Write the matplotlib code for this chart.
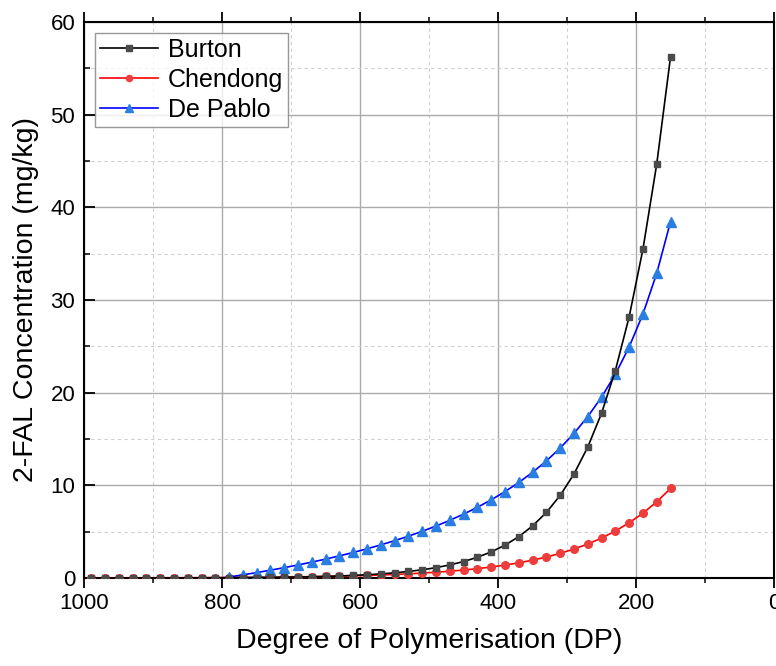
import matplotlib
matplotlib.use("Agg")
import matplotlib.pyplot as plt
from matplotlib.ticker import MultipleLocator

plt.rcParams['font.family'] = ['Liberation Sans', 'DejaVu Sans']

dp = [990, 970, 950, 930, 910, 890, 870, 850, 830, 810, 790, 770, 750, 730,
      710, 690, 670, 650, 630, 610, 590, 570, 550, 530, 510, 490, 470, 450,
      430, 410, 390, 370, 350, 330, 310, 290, 270, 250, 230, 210, 190, 170, 150]

burton = [0.00355, 0.00447, 0.00562, 0.00708, 0.00891, 0.01122, 0.01413, 0.01778,
          0.02239, 0.02818, 0.03548, 0.04467, 0.05623, 0.07079, 0.08913, 0.1122,
          0.1413, 0.1778, 0.2239, 0.2818, 0.3548, 0.4467, 0.5623, 0.7079, 0.8913,
          1.122, 1.413, 1.778, 2.239, 2.818, 3.548, 4.467, 5.623, 7.079, 8.913,
          11.22, 14.13, 17.78, 22.39, 28.18, 35.48, 44.67, 56.23]

chendong = [0.01109, 0.01303, 0.01531, 0.01799, 0.02113, 0.02483, 0.02917, 0.03428,
            0.04027, 0.04732, 0.05559, 0.06531, 0.07674, 0.09016, 0.1059, 0.1245,
            0.1462, 0.1718, 0.2018, 0.2371, 0.2786, 0.3273, 0.3846, 0.4519, 0.5309,
            0.6237, 0.7328, 0.8610, 1.0116, 1.1885, 1.3964, 1.6406, 1.9275, 2.2646,
            2.6607, 3.1261, 3.6728, 4.3152, 5.0699, 5.9566, 6.9984, 8.2224, 9.6605]

de_pablo = [-1.708, -1.560, -1.406, -1.246, -1.078, -0.902, -0.719, -0.527, -0.326,
            -0.115, 0.107, 0.341, 0.587, 0.846, 1.120, 1.410, 1.717, 2.043, 2.390,
            2.759, 3.154, 3.576, 4.029, 4.516, 5.042, 5.610, 6.226, 6.898, 7.632,
            8.437, 9.325, 10.309, 11.406, 12.635, 14.023, 15.603, 17.416, 19.520,
            21.990, 24.930, 28.488, 32.885, 38.453]

series_names = ["Burton", "Chendong", "De Pablo"]
x_ticks = [1000, 800, 600, 400, 200, 0]
y_ticks = [0, 10, 20, 30, 40, 50, 60]

fig = plt.figure(figsize=(7.76, 6.66), dpi=100)
ax = fig.add_axes([0.1086, 0.1321, 0.8888, 0.8349])

ax.plot(dp, burton, color='black', lw=1.2, marker='s', ms=5,
        mfc='#4a4a4a', mec='#4a4a4a', label=series_names[0], zorder=4)
ax.plot(dp, chendong, color='#ff0000', lw=1.2, marker='o', ms=5.5,
        mfc='#ee3d3d', mec='#ee3d3d', label=series_names[1], zorder=3)
ax.plot(dp, de_pablo, color='#0000ff', lw=1.2, marker='^', ms=6.5,
        mfc='#2a7de1', mec='#2a7de1', label=series_names[2], zorder=3)

ax.set_xlim(1000, 0)
ax.set_ylim(0, 60)
ax.set_xticks(x_ticks)
ax.set_yticks(y_ticks)
ax.xaxis.set_minor_locator(MultipleLocator(100))
ax.yaxis.set_minor_locator(MultipleLocator(5))

ax.grid(True, which='major', color='#ababab', lw=1.0, ls='-', zorder=0)
ax.grid(True, which='minor', color='#cfcfcf', lw=0.8, ls=(0, (3, 3)), zorder=0)
ax.set_axisbelow(True)

for s in ax.spines.values():
    s.set_linewidth(1.5)
    s.set_color('black')

ax.tick_params(axis='x', which='major', direction='out', length=7, width=1.3,
               labelsize=16, pad=4, top=True)
ax.tick_params(axis='x', which='minor', direction='out', length=3.5, width=1.1, top=True)
ax.tick_params(axis='y', which='major', direction='in', length=8, width=1.3,
               labelsize=16, pad=6.5, right=False)
ax.tick_params(axis='y', which='minor', direction='in', length=4, width=1.1, right=False)

ax.set_xlabel('Degree of Polymerisation (DP)', fontsize=20.5, labelpad=10)
ax.set_ylabel('2-FAL Concentration (mg/kg)', fontsize=20.5, labelpad=8)

leg = ax.legend(loc='upper left', bbox_to_anchor=(0.016, 0.981), borderaxespad=0,
                fontsize=18, frameon=True, fancybox=False, edgecolor='#7f7f7f',
                handlelength=2.3, handletextpad=0.4, labelspacing=0.25,
                borderpad=0.2, markerscale=0.8)
leg.get_frame().set_linewidth(1.0)

fig.savefig('out.png', dpi=100)
